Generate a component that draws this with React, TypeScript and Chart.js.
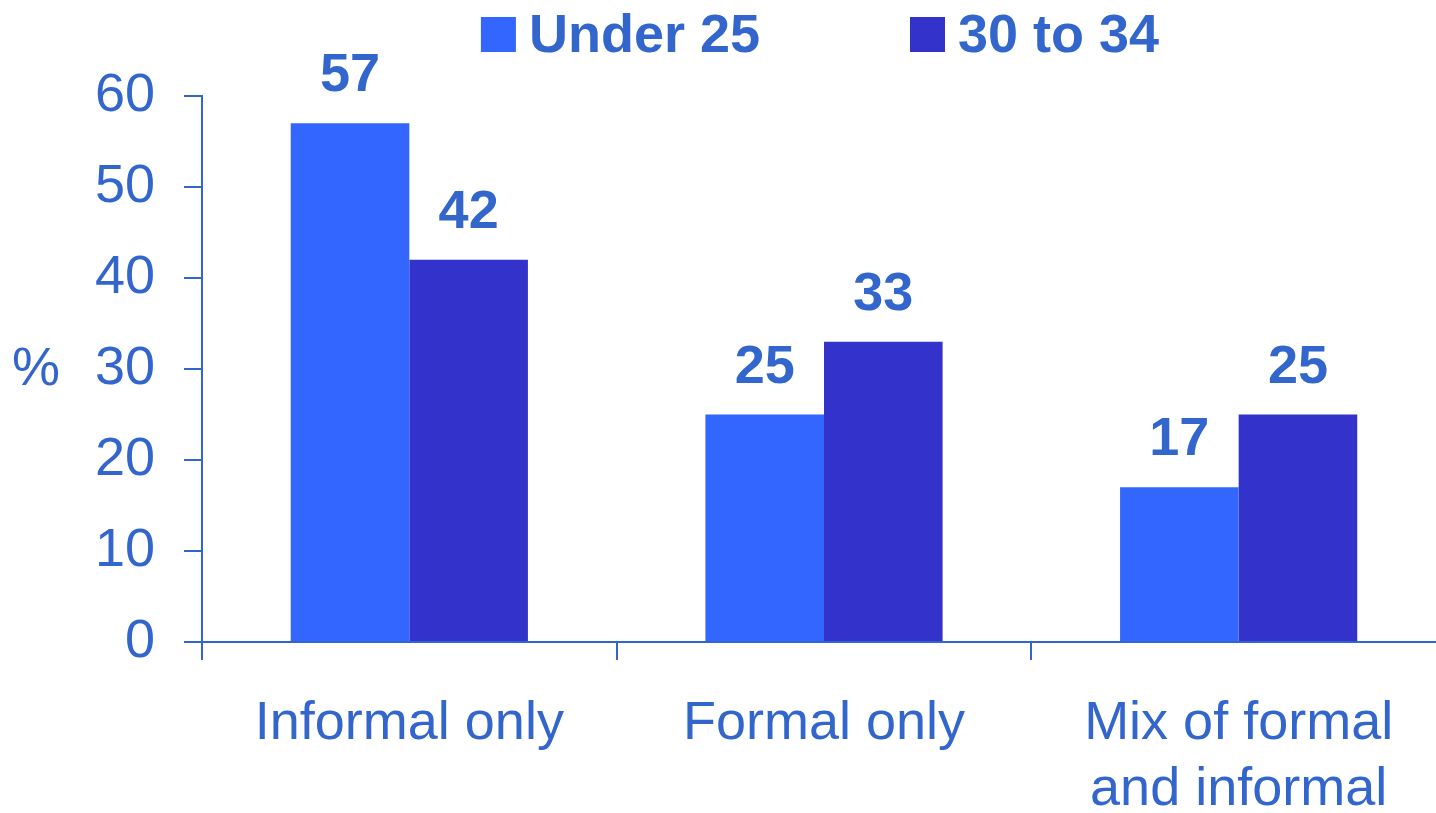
import React, { useEffect, useRef } from "react";
import { Chart, registerables } from "chart.js";

Chart.register(...registerables);

// ---- data ----
const categories: string[][] = [["Informal only"], ["Formal only"], ["Mix of formal", "and informal"]];
const seriesNames: string[] = ["Under 25", "30 to 34"];
const under25: number[] = [57, 25, 17];
const age30to34: number[] = [42, 33, 25];
const seriesColors: string[] = ["#3366FF", "#3333CC"];
const yMin = 0;
const yMax = 60;
const yStep = 10;
const yAxisLabel = "%";

const FONT = '"Liberation Sans", Arial, Helvetica, sans-serif';
const TEXT = "#3366CC";
const AXIS = "#3366CC";

const valueLabelsPlugin = {
  id: "valueLabels",
  afterDatasetsDraw(chart: any) {
    const ctx = chart.ctx;
    ctx.save();
    ctx.font = `bold 54px ${FONT}`;
    ctx.fillStyle = TEXT;
    ctx.textAlign = "center";
    ctx.textBaseline = "alphabetic";
    chart.data.datasets.forEach((ds: any, i: number) => {
      const meta = chart.getDatasetMeta(i);
      meta.data.forEach((bar: any, j: number) => {
        ctx.fillText(String(ds.data[j]), bar.x, bar.y - 32);
      });
    });
    ctx.restore();
  },
};

const legendPlugin = {
  id: "customLegend",
  afterDraw(chart: any) {
    const ctx = chart.ctx;
    const area = chart.chartArea;
    ctx.save();
    ctx.font = `bold 54px ${FONT}`;
    const box = 35;
    const gapBoxText = 13;
    const gapItems = 150;
    const widths = chart.data.datasets.map((ds: any) => box + gapBoxText + ctx.measureText(ds.label).width);
    const total = widths.reduce((a: number, b: number) => a + b, 0) + gapItems * (widths.length - 1);
    let x = (area.left + area.right) / 2 - 4 - total / 2;
    const baseline = 52;
    chart.data.datasets.forEach((ds: any, i: number) => {
      ctx.fillStyle = ds.backgroundColor;
      ctx.fillRect(x, baseline - box, box, box);
      ctx.fillStyle = TEXT;
      ctx.textAlign = "left";
      ctx.textBaseline = "alphabetic";
      ctx.fillText(ds.label, x + box + gapBoxText, baseline);
      x += widths[i] + gapItems;
    });
    ctx.restore();
  },
};

const axisTitlePlugin = {
  id: "axisTitle",
  afterDraw(chart: any) {
    const ctx = chart.ctx;
    const area = chart.chartArea;
    ctx.save();
    ctx.font = `54px ${FONT}`;
    ctx.fillStyle = TEXT;
    ctx.textAlign = "center";
    ctx.textBaseline = "alphabetic";
    ctx.fillText(yAxisLabel, 36, (area.top + area.bottom) / 2 + 16);
    ctx.restore();
  },
};

export default function App() {
  const ref = useRef<HTMLCanvasElement | null>(null);

  useEffect(() => {
    if (!ref.current) return;
    const chart = new Chart(ref.current, {
      type: "bar",
      data: {
        labels: categories,
        datasets: [
          {
            label: seriesNames[0],
            data: under25,
            backgroundColor: seriesColors[0],
            borderWidth: 0,
            barPercentage: 1,
            categoryPercentage: 0.572,
          },
          {
            label: seriesNames[1],
            data: age30to34,
            backgroundColor: seriesColors[1],
            borderWidth: 0,
            barPercentage: 1,
            categoryPercentage: 0.572,
          },
        ],
      },
      options: {
        responsive: false,
        maintainAspectRatio: false,
        animation: false,
        layout: { padding: { top: 96, right: 14, left: 0, bottom: 0 } },
        plugins: {
          legend: { display: false },
          tooltip: { enabled: false },
        },
        scales: {
          x: {
            grid: {
              display: true,
              drawOnChartArea: false,
              drawTicks: true,
              tickLength: 18,
              color: AXIS,
              lineWidth: 2,
              offset: true,
            },
            border: { display: true, color: AXIS, width: 2 },
            ticks: {
              color: TEXT,
              font: { size: 54, family: FONT, lineHeight: 66 / 54 },
              padding: 31,
              maxRotation: 0,
              autoSkip: false,
            },
            afterFit: (s: any) => {
              s.height = 171;
            },
          },
          y: {
            min: yMin,
            max: yMax,
            grid: {
              display: true,
              drawOnChartArea: false,
              drawTicks: true,
              tickLength: 18,
              color: AXIS,
              lineWidth: 2,
            },
            border: { display: true, color: AXIS, width: 2 },
            ticks: {
              stepSize: yStep,
              color: TEXT,
              font: { size: 54, family: FONT },
              padding: 29,
            },
            afterFit: (s: any) => {
              s.width = 202;
            },
          },
        },
      },
      plugins: [valueLabelsPlugin, legendPlugin, axisTitlePlugin],
    });
    return () => chart.destroy();
  }, []);

  return (
    <div
      style={{
        position: "fixed",
        left: 0,
        top: 0,
        width: 1436,
        height: 813,
        overflow: "hidden",
        background: "#ffffff",
      }}
    >
      <canvas ref={ref} width={1460} height={813} style={{ display: "block", width: 1460, height: 813 }} />
    </div>
  );
}
